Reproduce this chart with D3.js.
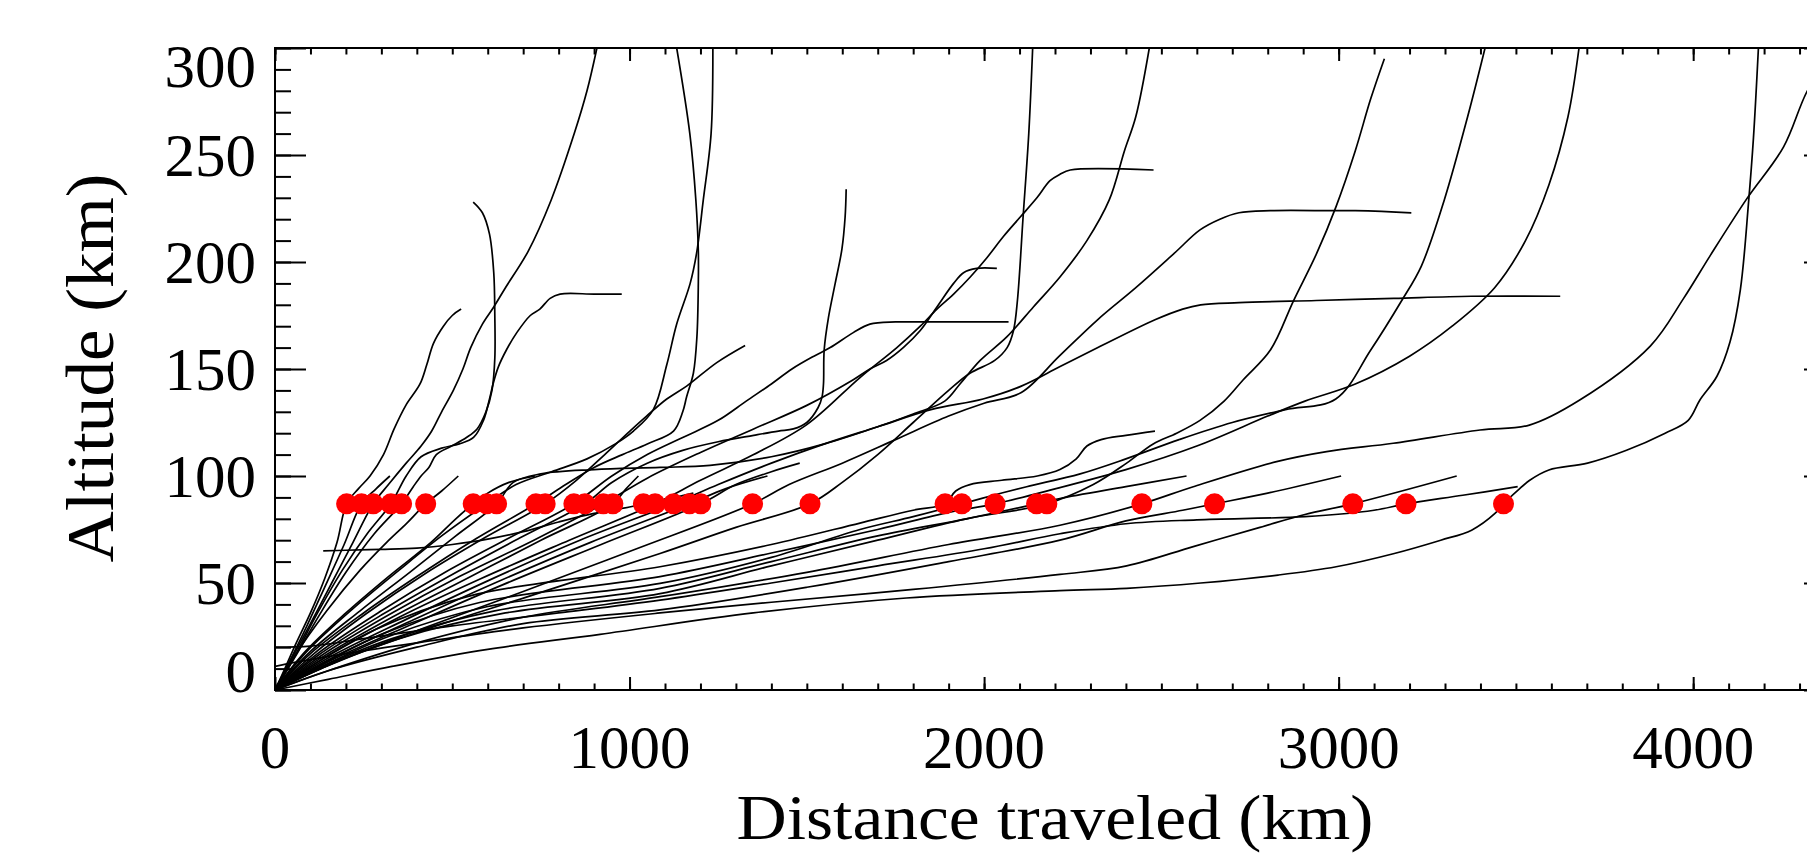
<!DOCTYPE html>
<html>
<head>
<meta charset="utf-8">
<script src="https://cdn.jsdelivr.net/npm/d3@7"></script>
<style>
  body { margin: 0; background: #fff; }
  svg { display: block; }
  text { font-family: "Liberation Serif", "DejaVu Serif", serif; fill: #000; }
</style>
</head>
<body>
<svg id="chart" width="1807" height="853"></svg>
<script>
// Axis ticks and titles
const xMajorTicks = [0, 1000, 2000, 3000, 4000];
const yMajorTicks = [0, 50, 100, 150, 200, 250, 300];
const xTitle = "Distance traveled (km)";
const yTitle = "Altitude (km)";

// Distance (km) where each track crosses the marked altitude
const markerKm = [202, 244, 277, 327, 357, 425, 559, 597, 625, 736, 762, 843, 874, 926, 953,
  1039, 1072, 1124, 1169, 1201, 1347, 1509, 1890, 1937, 2031, 2148, 2177, 2445, 2650, 3040, 3190, 3465];
const markerAltitude = 87;

// Trajectories: [distance km, altitude km]
const trackEnd525 = [[0,0],[25,9],[60,22],[100,36],[140,52],[175,69],[202,87],[235,94],[268,100],[306,110],[336,122],[369,133],[409,143],[428,152],[447,162],[475,170],[500,175],[525,178]];
const trackEnd324 = [[0,0],[40,13],[90,30],[140,48],[195,68],[244,87],[285,94],[324,100]];
const trackTop908 = [[0,0],[45,14],[100,31],[160,50],[220,69],[277,87],[320,96],[370,106],[412,114],[442,121],[470,130],[503,140],[530,150],[552,160],[585,171],[617,179],[650,188],[714,205],[779,229],[844,260],[880,280],[908,300]];
const trackFlat185 = [[0,0],[50,14],[120,36],[190,56],[260,73],[327,87],[370,100],[412,109],[470,113],[520,115],[560,118],[588,126],[605,136],[615,143],[630,151],[653,159],[682,167],[720,175],[747,178],[776,183],[804,185],[900,185],[978,185]];
const trackHook557 = [[0,0],[55,15],[125,35],[200,55],[280,73],[357,87],[390,95],[412,100],[434,104],[455,110],[498,114],[540,118],[570,122],[595,130],[612,140],[620,155],[620,175],[617,195],[605,213],[585,223],[559,228]];
const trackEnd517 = [[0,0],[52,15],[146,37],[240,56],[315,69],[372,78],[425,87],[470,93],[517,100]];
const trackEnd733 = [[0,0],[80,17],[200,36],[320,53],[440,69],[510,80],[559,87],[600,92],[660,97],[733,100]];
const trackTop1235 = [[0,0],[90,18],[220,38],[350,56],[470,72],[597,87],[680,96],[780,102],[880,108],[960,115],[1011,121],[1067,131],[1105,152],[1133,171],[1171,190],[1189,204],[1208,229],[1230,260],[1235,300]];
const trackTop2466 = [[0,0],[100,18],[240,37],[380,55],[510,72],[625,87],[672,97],[750,101],[900,103],[1086,104],[1227,105],[1400,109],[1550,115],[1700,123],[1800,129],[1889,135],[1932,143],[1989,154],[2064,165],[2139,179],[2214,193],[2290,210],[2353,229],[2396,252],[2428,268],[2466,300]];
const trackTop1133 = [[0,0],[100,17],[250,36],[400,53],[560,70],[736,87],[820,96],[900,104],[980,110],[1050,115],[1124,121],[1150,130],[1161,137],[1180,148],[1190,165],[1194,190],[1194,205],[1187,229],[1170,260],[1133,300]];
const trackEnd1326 = [[0,0],[110,17],[260,36],[420,54],[590,71],[762,87],[850,98],[930,110],[1001,121],[1048,128],[1105,136],[1161,142],[1246,153],[1326,161]];
const trackFlat172 = [[0,0],[120,17],[300,37],[480,55],[660,71],[843,87],[950,100],[1050,110],[1150,118],[1250,126],[1329,135],[1400,143],[1458,150],[1520,156],[1566,160],[1631,167],[1678,171],[1750,172],[1820,172],[2069,172]];
const trackTop1607 = [[0,0],[120,16],[300,35],[500,54],[690,71],[874,87],[950,97],[1050,106],[1150,112],[1250,116],[1350,119],[1420,121],[1462,122],[1500,125],[1532,132],[1543,137],[1547,143],[1549,159],[1561,174],[1580,190],[1599,206],[1608,221],[1611,234]];
const trackFlat197 = [[0,0],[130,16],[320,35],[520,53],[730,70],[926,87],[1050,99],[1200,111],[1350,122],[1500,133],[1631,145],[1678,150],[1725,154],[1772,160],[1820,168],[1867,179],[1914,190],[1942,195],[1979,197],[2036,197]];
const trackEnd1025 = [[0,0],[130,15],[330,34],[540,52],[750,70],[953,87],[990,94],[1025,100]];
const trackLow65 = [[136,65],[200,65.3],[300,65.7],[400,66.3],[500,68],[600,70.5],[700,74],[800,78.5],[900,82.5],[1000,85.5],[1039,87],[1100,89],[1180,92]];
const trackFlat243 = [[0,0],[150,16],[350,34],[580,52],[830,70],[1072,87],[1200,98],[1350,110],[1500,124],[1650,146],[1754,160],[1820,170],[1867,178],[1914,185],[1961,193],[2008,202],[2055,212],[2102,221],[2149,230],[2186,238],[2214,241],[2243,243],[2478,243]];
const trackFlat184 = [[0,0],[150,15],[370,33],[600,51],[860,70],[1124,87],[1250,96],[1400,106],[1550,115],[1700,123],[1850,131],[1997,136],[2105,142],[2213,151],[2321,160],[2482,173],[2560,178],[2611,180],[2719,181],[2937,182],[3156,183],[3374,184],[3625,184]];
const trackEnd1389 = [[0,0],[160,15],[380,32],[620,50],[890,69],[1169,87],[1270,94],[1389,100]];
const trackEnd1480 = [[0,0],[160,14],[390,31],[640,49],[920,68],[1201,87],[1300,96],[1400,102],[1480,106]];
const trackFlat224 = [[0,0],[170,13],[420,29],[700,46],[1020,66],[1347,87],[1450,96],[1600,106],[1750,117],[1900,128],[2000,134],[2105,139],[2212,156],[2320,173],[2428,188],[2536,204],[2609,215],[2665,220],[2719,223],[2807,224],[2981,224],[3047,224],[3205,223]];
const trackTop2137 = [[0,0],[170,13],[420,28],[720,44],[1086,63.8],[1300,76],[1509,87],[1600,97],[1700,110],[1800,125],[1900,140],[1960,148],[2030,154],[2065,160],[2083,168],[2094,182],[2110,221],[2126,260],[2137,300]];
const trackEnd2482 = [[0,0],[100,11],[280,28],[550,44],[1086,57.6],[1400,68],[1650,78],[1800,84],[1890,87],[1920,93],[1960,96],[2050,98],[2150,100],[2214,103],[2260,108],[2290,114],[2330,117],[2400,119],[2482,121]];
const trackTop3413 = [[0,0],[120,10],[320,25],[600,39],[1086,49.8],[1400,62],[1650,75],[1800,81],[1937,87],[2026,91],[2120,95],[2271,101],[2400,108],[2550,117],[2700,125],[2850,131],[2992,136],[3091,159],[3178,182],[3233,198],[3298,229],[3364,268],[3413,300]];
const trackTop3678 = [[0,0],[110,10],[300,26],[580,41],[1086,53],[1400,64],[1700,75],[1900,83],[2031,87],[2200,94],[2400,103],[2600,114],[2800,128],[2905,135],[3047,143],[3200,156],[3320,170],[3440,188],[3527,210],[3593,236],[3647,268],[3678,300]];
const trackEnd2571 = [[0,0],[120,10],[330,24],[620,37],[1086,47.5],[1400,60],[1700,72],[1950,80],[2148,87],[2214,89.5],[2400,95],[2571,100]];
const trackTop3129 = [[0,0],[130,10],[350,24],[650,36],[1086,45],[1400,58],[1700,70],[1950,80],[2177,87],[2308,96],[2402,106],[2477,115],[2543,120],[2609,126],[2677,135],[2731,145],[2808,159],[2873,182],[2938,204],[2993,226],[3047,252],[3090,276],[3129,295]];
const trackRightEdge = [[0,0],[150,9],[400,22],[700,34],[1086,43.6],[1500,55],[1900,68],[2214,77],[2445,87],[2590,95],[2825,106.7],[2966,111.4],[3154,115.3],[3399,121.5],[3538,123.8],[3680,135.5],[3879,160.7],[3973,183],[4048,203],[4151,229.5],[4255,253.8],[4322,280],[4400,300]];
const trackEnd3007 = [[0,0],[150,9],[400,20],[700,31],[1086,37.4],[1500,48],[1900,60],[2214,70],[2400,79],[2560,84],[2650,87],[2800,92],[3007,100]];
const trackEnd3333 = [[0,11],[60,13],[200,17],[400,22],[700,29],[1086,36],[1400,41],[1800,47],[2214,54],[2402,58],[2590,67],[2778,76],[2905,82],[3040,87],[3333,100]];
const trackEnd3505 = [[0,20],[100,20.5],[250,24],[500,30],[800,36],[1086,42],[1400,50],[1700,58],[2000,66],[2214,73],[2400,77.7],[2600,79.5],[2905,81],[3100,84],[3190,87],[3350,91],[3505,95]];
const trackTop4184 = [[0,0],[150,5],[330,11],[600,19],[917,26],[1349,36],[1781,43],[2214,46.4],[2402,47.5],[2611,50],[2829,53.7],[2993,57.6],[3157,63.8],[3288,70],[3375,74.7],[3441,82.5],[3465,87],[3506,93.4],[3539,98],[3593,102.8],[3702,106],[3812,112],[3921,120],[3986,126],[4019,135.5],[4067,146.6],[4104,162.7],[4133,187],[4156,227.5],[4170,258],[4184,300]];

const tracks = [trackEnd525, trackEnd324, trackTop908, trackFlat185, trackHook557, trackEnd517,
  trackEnd733, trackTop1235, trackTop2466, trackTop1133, trackEnd1326, trackFlat172, trackTop1607,
  trackFlat197, trackEnd1025, trackLow65, trackFlat243, trackFlat184, trackEnd1389, trackEnd1480,
  trackFlat224, trackTop2137, trackEnd2482, trackTop3413, trackTop3678, trackEnd2571, trackTop3129,
  trackRightEdge, trackEnd3007, trackEnd3333, trackEnd3505, trackTop4184];

// Layout
const W = 1807, H = 853;
const plot = { left: 275, right: 1835, top: 48, bottom: 690 };
const x = d3.scaleLinear().domain([0, 4400]).range([plot.left, plot.right]);
const y = d3.scaleLinear().domain([0, 300]).range([plot.bottom, plot.top]);

const svg = d3.select("#chart");
svg.append("rect").attr("width", W).attr("height", H).attr("fill", "#fff");

svg.append("defs").append("clipPath").attr("id", "plotClip")
  .append("rect").attr("x", plot.left).attr("y", plot.top)
  .attr("width", plot.right - plot.left).attr("height", plot.bottom - plot.top);

// Trajectory lines
const line = d3.line().x(d => x(d[0])).y(d => y(d[1])).curve(d3.curveCatmullRom.alpha(0.5));
svg.append("g").attr("clip-path", "url(#plotClip)")
  .selectAll("path").data(tracks).join("path")
  .attr("d", line).attr("fill", "none").attr("stroke", "#000")
  .attr("stroke-width", 1.7).attr("stroke-linejoin", "round");

// Markers
svg.append("g").attr("clip-path", "url(#plotClip)")
  .selectAll("circle").data(markerKm).join("circle")
  .attr("cx", d => x(d)).attr("cy", y(markerAltitude)).attr("r", 10.5).attr("fill", "#ff0000");

// Axes: ticks pointing inward on all four sides
const xMinor = d3.range(0, 4401, 100);
const yMinor = d3.range(0, 301, 10);
function styleAxis(g) {
  g.select(".domain").remove();
  g.selectAll("line").attr("stroke", "#000").attr("stroke-width", 2);
  g.selectAll("text").remove();
}
svg.append("g").attr("transform", `translate(0,${plot.bottom})`)
  .call(d3.axisBottom(x).tickValues(xMinor).tickSize(-6.5).tickFormat("")).call(styleAxis);
svg.append("g").attr("transform", `translate(0,${plot.bottom})`)
  .call(d3.axisBottom(x).tickValues(xMajorTicks).tickSize(-13)).call(styleAxis);
svg.append("g").attr("transform", `translate(0,${plot.top})`)
  .call(d3.axisTop(x).tickValues(xMinor).tickSize(-6.5).tickFormat("")).call(styleAxis);
svg.append("g").attr("transform", `translate(0,${plot.top})`)
  .call(d3.axisTop(x).tickValues(xMajorTicks).tickSize(-13)).call(styleAxis);
svg.append("g").attr("transform", `translate(${plot.left},0)`)
  .call(d3.axisLeft(y).tickValues(yMinor).tickSize(-16).tickFormat("")).call(styleAxis);
svg.append("g").attr("transform", `translate(${plot.left},0)`)
  .call(d3.axisLeft(y).tickValues(yMajorTicks).tickSize(-31)).call(styleAxis);
svg.append("g").attr("transform", `translate(${plot.right},0)`)
  .call(d3.axisRight(y).tickValues(yMinor).tickSize(-16).tickFormat("")).call(styleAxis);
svg.append("g").attr("transform", `translate(${plot.right},0)`)
  .call(d3.axisRight(y).tickValues(yMajorTicks).tickSize(-31)).call(styleAxis);

// Frame
svg.append("rect").attr("x", plot.left).attr("y", plot.top)
  .attr("width", plot.right - plot.left).attr("height", plot.bottom - plot.top)
  .attr("fill", "none").attr("stroke", "#000").attr("stroke-width", 2);

// Tick labels
const tickFont = 61;
svg.append("g").selectAll("text").data(xMajorTicks).join("text")
  .attr("x", d => x(d)).attr("y", 768).attr("text-anchor", "middle")
  .attr("font-size", tickFont).text(d => d);
svg.append("g").selectAll("text").data(yMajorTicks).join("text")
  .attr("x", 256).attr("text-anchor", "end").attr("font-size", tickFont)
  .attr("y", d => d === 0 ? y(d) + 2 : d === 300 ? y(d) + 39 : y(d) + 21)
  .text(d => d);

// Axis titles
svg.append("text").attr("x", 1055).attr("y", 839).attr("text-anchor", "middle")
  .attr("font-size", 64).attr("textLength", 637).attr("lengthAdjust", "spacingAndGlyphs")
  .text(xTitle);
svg.append("text").attr("transform", `translate(113,368) rotate(-90)`)
  .attr("text-anchor", "middle").attr("font-size", 68)
  .attr("textLength", 389).attr("lengthAdjust", "spacingAndGlyphs").text(yTitle);
</script>
</body>
</html>
